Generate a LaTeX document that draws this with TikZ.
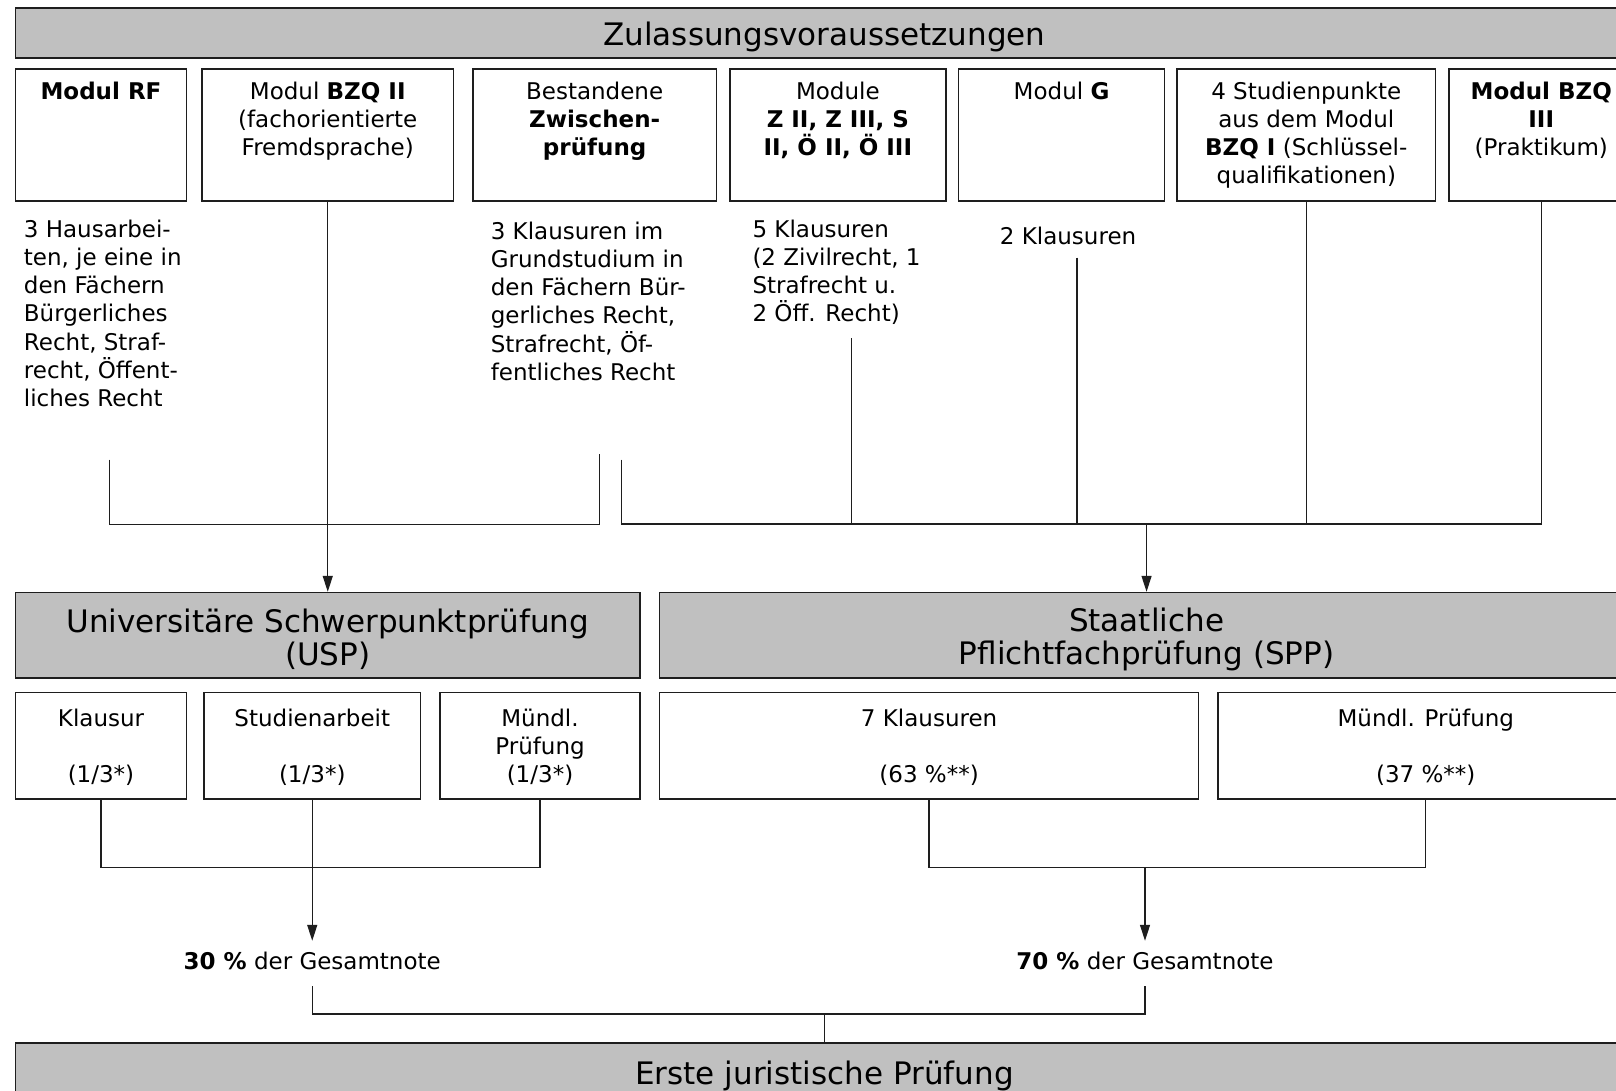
\documentclass[tikz,border=0pt]{standalone}
\usepackage{fontspec}
\setmainfont{DejaVu Sans}
\usetikzlibrary{arrows.meta}
\definecolor{hdrgray}{RGB}{192,192,192}
\definecolor{linec}{RGB}{30,30,30}
\newcommand\smallf{\fontsize{23}{28.2}\selectfont}
\newcommand\bigf{\fontsize{31}{33}\selectfont}
\newcommand\fl{\rule{0pt}{22pt}}
\tikzset{
  gbox/.style={draw=linec, line width=1.6pt, fill=hdrgray, inner sep=0pt},
  gtext/.style={inner sep=0pt, font=\bigf, align=center},
  wbox/.style={draw=linec, line width=1.6pt, fill=white, inner sep=0pt},
  intext/.style={inner sep=0pt, anchor=north, align=center, font=\smallf},
  desc/.style={inner sep=0pt, anchor=north west, align=left, font=\smallf},
  res/.style={inner xsep=0pt, inner ysep=11.5pt, text height=17pt, text depth=5pt, font=\smallf, anchor=base},
  conn/.style={line width=1.3pt, draw=linec},
  arr/.style={conn, -{Triangle[length=16pt,width=10pt]}},
}
\begin{document}
\begin{tikzpicture}[x=1pt, y=-1pt]
\useasboundingbox (0,0) rectangle (1616,1091);
\fill[white] (0,0) rectangle (1616,1091);
\clip (0,0) rectangle (1616,1091);

% header
\node[gbox, minimum width=1618, minimum height=49.5] (zul) at (824.5,33) {};
\node[gtext] (zult) at ([yshift=-4pt]zul.center) {Zulassungsvoraussetzungen};

% top row boxes
\node[wbox, minimum width=171,   minimum height=132] (b1) at (101,135) {};
\node[wbox, minimum width=251.5, minimum height=132] (b2) at (327.75,135) {};
\node[wbox, minimum width=243.3, minimum height=132] (b3) at (594.65,135) {};
\node[wbox, minimum width=216.3, minimum height=132] (b4) at (837.85,135) {};
\node[wbox, minimum width=206.1, minimum height=132] (b5) at (1061.55,135) {};
\node[wbox, minimum width=258.6, minimum height=132] (b6) at (1306.3,135) {};
\node[wbox, minimum width=184.5, minimum height=132] (b7) at (1541.25,135) {};

\node[intext] (b1t) at ([yshift=-9pt]b1.north) {\fl\textbf{Modul RF}};
\node[intext] (b2t) at ([yshift=-9pt]b2.north) {\fl Modul \textbf{BZQ II}\\(fachorientierte\\Fremdsprache)};
\node[intext] (b3t) at ([yshift=-9pt]b3.north) {\fl Bestandene\\\textbf{Zwischen-}\\\textbf{prüfung}};
\node[intext] (b4t) at ([yshift=-9pt]b4.north) {\fl Module\\\textbf{Z II, Z III, S}\\\textbf{II, Ö II, Ö III}};
\node[intext] (b5t) at ([yshift=-9pt]b5.north) {\fl Modul \textbf{G}};
\node[intext] (b6t) at ([yshift=-9pt]b6.north) {\fl 4 Studienpunkte\\aus dem Modul\\\textbf{BZQ I} (Schlüssel-\\qualifikationen)};
\node[intext] (b7t) at ([yshift=-9pt]b7.north) {\fl\textbf{Modul BZQ}\\\textbf{III}\\(Praktikum)};

% descriptive texts
\node[desc] (t1) at (23.7,215) {\fl 3 Hausarbei-\\ten, je eine in\\den Fächern\\Bürgerliches\\Recht, Straf-\\recht, Öffent-\\liches Recht};
\node[desc] (t3) at (490.6,217) {\fl 3 Klausuren im\\Grundstudium in\\den Fächern Bür-\\gerliches Recht,\\Strafrecht, Öf-\\fentliches Recht};
\node[desc] (t4) at (752.3,215) {\fl 5 Klausuren\\(2 Zivilrecht, 1\\Strafrecht u.\\2 Öff. Recht)};
\node[desc] (t5) at (999.7,222) {\fl 2 Klausuren};

% second level
\node[gbox, minimum width=624.5, minimum height=85.6] (usp) at (327.75,635.4) {};
\node[gtext] (uspt) at ([yshift=-4pt]usp.center) {Universitäre Schwerpunktprüfung\\(USP)};
\node[gbox, minimum width=973.9, minimum height=85.6] (spp) at (1146.55,635.4) {};
\node[gtext] (sppt) at ([yshift=-4.5pt]spp.center) {Staatliche\\Pflichtfachprüfung (SPP)};

% third row
\node[wbox, minimum width=171,   minimum height=106.1] (k1) at (101,745.65) {};
\node[wbox, minimum width=216.5, minimum height=106.1] (k2) at (312.25,745.65) {};
\node[wbox, minimum width=200,   minimum height=106.1] (k3) at (540,745.65) {};
\node[wbox, minimum width=539,   minimum height=106.1] (k4) at (929.1,745.65) {};
\node[wbox, minimum width=415.5, minimum height=106.1] (k5) at (1425.75,745.65) {};

\node[intext] (k1t) at ([yshift=-12pt]k1.north) {\fl Klausur\\\mbox{}\\(1/3*)};
\node[intext] (k2t) at ([yshift=-12pt]k2.north) {\fl Studienarbeit\\\mbox{}\\(1/3*)};
\node[intext] (k3t) at ([yshift=-12pt]k3.north) {\fl Mündl.\\Prüfung\\(1/3*)};
\node[intext] (k4t) at ([yshift=-12pt]k4.north) {\fl 7 Klausuren\\\mbox{}\\(63 \%**)};
\node[intext] (k5t) at ([yshift=-12pt]k5.north) {\fl Mündl. Prüfung\\\mbox{}\\(37 \%**)};

% results
\node[res] (p30) at (312.25,969.5) {\textbf{30 \%} der Gesamtnote};
\node[res] (p70) at (1145,969.5) {\textbf{70 \%} der Gesamtnote};

% bottom
\node[gbox, minimum width=1618, minimum height=58] (ejp) at (824.5,1072) {};
\node[gtext] (ejpt) at ([yshift=-4pt]ejp.center) {Erste juristische Prüfung};

% coordinates
\coordinate (l1) at (109.2,459.6);
\coordinate (l2) at (599.8,453.5);
\coordinate (lj) at (350,524.6);
\coordinate (r1) at (621.4,459.6);
\coordinate (r4) at (851.3,338);
\coordinate (r5) at (1077,257.7);
\coordinate (rj) at (1146.55,524);
\coordinate (uj) at (312.25,867.8);
\coordinate (sj) at (1145,867.8);
\coordinate (fj) at (824.5,1014);

% upper connectors
\draw[conn] (l1) |- (lj) -| (l2);
\draw[arr] (b2.south) -- (usp.north);
\draw[conn] (r1) |- (rj) -| (b7.south);
\draw[conn] (r4) -- (r4 |- rj);
\draw[conn] (r5) -- (r5 |- rj);
\draw[conn] (b6.south) -- (b6.south |- rj);
\draw[arr] (rj) -- (spp.north);

% lower connectors
\draw[conn] (k1.south) |- (uj) -| (k3.south);
\draw[conn] (k2.south) -- (uj);
\draw[arr] (uj) -- (p30.north);
\draw[conn] (k4.south) |- (sj) -| (k5.south);
\draw[arr] (sj) -- (p70.north);
\draw[conn] (p30.south) |- (fj) -| (p70.south);
\draw[conn] (fj) -- (ejp.north);
\end{tikzpicture}
\end{document}
